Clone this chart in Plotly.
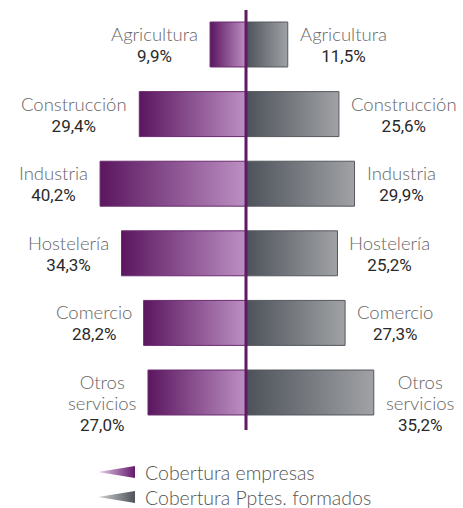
import plotly.graph_objects as go

# ---- data ----
categories = ["Agricultura", "Construcción", "Industria", "Hostelería", "Comercio", "Otros<br>servicios"]
empresas = [9.9, 29.4, 40.2, 34.3, 28.2, 27.0]
formados = [11.5, 25.6, 29.9, 25.2, 27.3, 35.2]
series_names = ["Cobertura empresas", "Cobertura Pptes. formados"]

W, H = 463, 508
PX_PER_UNIT = 3.63       # horizontal scale (px per %)
CENTER_PX = 246          # x pixel of zero line
ROW_PX = 69.6            # row pitch in px
FIRST_ROW_PX = 44.5      # center of first row in px
HALF = 0.323             # half bar thickness in row units

PURPLE_SCALE = [[0, "#5b165f"], [1, "#bc90c3"]]
GREY_SCALE = [[0, "#4d525a"], [1, "#a0a2a5"]]

def fmt(v):
    return f"{v:.1f}".replace(".", ",") + "%"

fig = go.Figure()

for i, v in enumerate(empresas):
    fig.add_trace(go.Scatter(
        x=[-v, 0, 0, -v, -v], y=[i - HALF, i - HALF, i + HALF, i + HALF, i - HALF],
        mode="lines", fill="toself", line=dict(color="#6b2c70", width=1),
        fillgradient=dict(type="horizontal", colorscale=PURPLE_SCALE),
        hoverinfo="skip", showlegend=False))
for i, v in enumerate(formados):
    fig.add_trace(go.Scatter(
        x=[0, v, v, 0, 0], y=[i - HALF, i - HALF, i + HALF, i + HALF, i - HALF],
        mode="lines", fill="toself", line=dict(color="#55585e", width=1),
        fillgradient=dict(type="horizontal", colorscale=GREY_SCALE),
        hoverinfo="skip", showlegend=False))

CAT_STYLE = "font-family:Lato;font-weight:300;font-size:18.5px;color:#666666"
NUM_STYLE = "font-family:Roboto;font-size:17px;color:#2a2a2a"

def label(cat, v):
    return f"<span style=\"{CAT_STYLE}\">{cat}</span><br><span style=\"{NUM_STYLE}\">{fmt(v)}</span>"

for i, (c, v) in enumerate(zip(categories, empresas)):
    n = c.count("<br>") + 2
    fig.add_annotation(x=-v, y=i, xref="x", yref="y", text=label(c, v), showarrow=False,
                       xanchor="right", yanchor="middle", align="center", xshift=-10,
                       yshift=-(n - 2) * 10, font=dict(size=16.3, family="Lato"))
for i, (c, v) in enumerate(zip(categories, formados)):
    n = c.count("<br>") + 2
    fig.add_annotation(x=v, y=i, xref="x", yref="y", text=label(c, v), showarrow=False,
                       xanchor="left", yanchor="middle", align="center", xshift=10,
                       yshift=-(n - 2) * 10, font=dict(size=16.3, family="Lato"))

# center line
fig.add_shape(type="line", x0=0, x1=0, xref="x", yref="paper",
              y0=1 - 430 / H, y1=1 - 10 / H, line=dict(color="#5e1a62", width=3), layer="above")

# legend wedges (decorative, on pixel-unit overlay axes)
for k, (scale, yc) in enumerate([([[0, "#e3d0e6"], [1, "#66186c"]], 472),
                                 ([[0, "#d0d1d3"], [1, "#4f535a"]], 497)]):
    fig.add_trace(go.Scatter(
        x=[98, 135, 135, 98], y=[yc, yc - 6, yc + 6, yc], xaxis="x2", yaxis="y2",
        mode="lines", fill="toself", line=dict(width=0),
        fillgradient=dict(type="horizontal", colorscale=scale),
        hoverinfo="skip", showlegend=False))
    fig.add_annotation(x=143 / W, y=1 - yc / H, xref="paper", yref="paper",
                       text=series_names[k], showarrow=False, xanchor="left", yanchor="middle",
                       font=dict(family="Lato", size=19.5, color="#555555", weight=300))

fig.update_layout(
    width=W, height=H, margin=dict(l=0, r=0, t=0, b=0),
    paper_bgcolor="white", plot_bgcolor="white", showlegend=False,
    xaxis=dict(range=[-CENTER_PX / PX_PER_UNIT, (W - CENTER_PX) / PX_PER_UNIT],
               visible=False, fixedrange=True, domain=[0, 1]),
    yaxis=dict(range=[(H - FIRST_ROW_PX) / ROW_PX, -FIRST_ROW_PX / ROW_PX],
               visible=False, fixedrange=True, domain=[0, 1]),
    xaxis2=dict(range=[0, W], visible=False, overlaying="x", fixedrange=True),
    yaxis2=dict(range=[H, 0], visible=False, overlaying="y", fixedrange=True),
)

fig.write_html("out.html", post_script="document.body.style.margin='0';document.body.style.overflow='hidden';",
               config={"displayModeBar": False})
